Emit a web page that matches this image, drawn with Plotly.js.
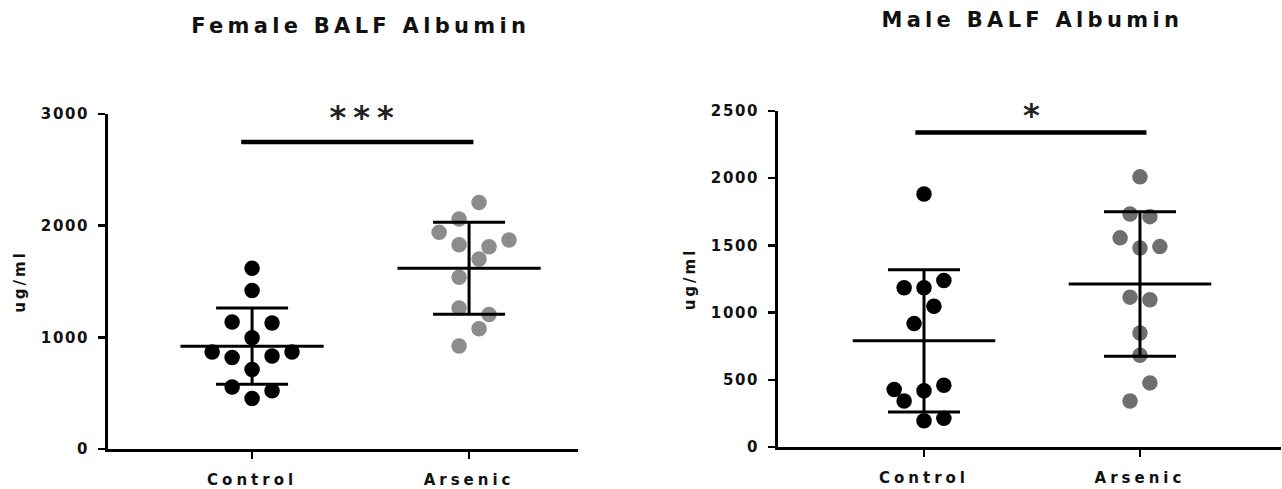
<!DOCTYPE html>
<html>
<head>
<meta charset="utf-8">
<script src="https://cdn.plot.ly/plotly-3.0.1.min.js"></script>
<style>
  html, body { margin: 0; padding: 0; background: #fff; }
  #chart { width: 1282px; height: 489px; }
  .xtick text, .x2tick text { letter-spacing: 4px; }
  .ytick text, .y2tick text { letter-spacing: 1.6px; }
  .ytitle, .y2title { letter-spacing: 3px; }
  g.annotation[data-index="0"] text, g.annotation[data-index="1"] text { letter-spacing: 4.3px; }
  g.annotation[data-index="2"] text { letter-spacing: 7px; }
</style>
</head>
<body>
<div id="chart"></div>
<script>
// ---- data ----
const groups = ['Control', 'Arsenic'];

const femaleControl = [1619, 1420, 1137, 1128, 997, 869, 819, 833, 869, 712, 556, 521, 453];
const femaleArsenic = [2208, 2060, 1940, 1830, 1812, 1872, 1702, 1539, 1262, 1205, 1077, 922];
const maleControl   = [1882, 1185, 1185, 1239, 1048, 918, 428, 343, 418, 460, 195, 213];
const maleArsenic   = [2010, 1734, 1714, 1556, 1481, 1491, 1115, 1096, 848, 682, 477, 343];

const femaleMean = [921, 1618];
const femaleSD   = [341, 412];
const maleMean   = [790, 1213];
const maleSD     = [529, 538];

const sigY      = [2750, 2340];
const sigLabels = ['***', '*'];

const femaleTicks = [0, 1000, 2000, 3000];
const maleTicks   = [0, 500, 1000, 1500, 2000, 2500];

// ---- point layout (scatter-dot columns, not data) ----
const colStep = 0.046;
const femaleControlCol = [0, 0, -2, 2, 0, -4, -2, 2, 4, 0, -2, 2, 0];
const femaleArsenicCol = [1, -1, -3, -1, 2, 4, 1, -1, -1, 2, 1, -1];
const maleControlCol   = [0, -2, 0, 2, 1, -1, -3, -2, 0, 2, 0, 2];
const maleArsenicCol   = [0, -1, 1, -2, 0, 2, -1, 1, 0, 0, 1, -1];

const FONT = 'DejaVu Sans, Liberation Sans, Arial, sans-serif';

function dots(vals, cols, groupIdx, color, xa, ya) {
  return {
    type: 'scatter', mode: 'markers',
    x: cols.map(c => groupIdx + c * colStep),
    y: vals,
    xaxis: xa, yaxis: ya,
    marker: { size: 15.5, color: color, line: { width: 0 } },
    hoverinfo: 'y', showlegend: false
  };
}

function meanSD(means, sds, xa, ya) {
  return {
    type: 'scatter', mode: 'markers',
    x: [0, 1], y: means,
    xaxis: xa, yaxis: ya,
    marker: { size: 1, color: 'rgba(0,0,0,0)' },
    error_x: { type: 'constant', value: 0.33, width: 0, thickness: 3, color: '#000' },
    error_y: { type: 'data', array: sds, visible: true, width: 36, thickness: 3, color: '#000' },
    hoverinfo: 'skip', showlegend: false
  };
}

const data = [
  dots(femaleControl, femaleControlCol, 0, '#000000', 'x', 'y'),
  dots(femaleArsenic, femaleArsenicCol, 1, '#8c8c8c', 'x', 'y'),
  meanSD(femaleMean, femaleSD, 'x', 'y'),
  dots(maleControl, maleControlCol, 0, '#000000', 'x2', 'y2'),
  dots(maleArsenic, maleArsenicCol, 1, '#6e6e6e', 'x2', 'y2'),
  meanSD(maleMean, maleSD, 'x2', 'y2')
];

const xTickFont = { family: FONT, size: 15, color: '#111', weight: 'bold' };
const yTickFont = { family: FONT, size: 15, color: '#111', weight: 'bold' };

function xAxis(domain, range) {
  return {
    domain: domain, range: range,
    tickvals: [0, 1], ticktext: groups,
    showline: true, linewidth: 3, linecolor: '#000',
    ticks: 'outside', ticklen: 7, tickwidth: 2.5, tickcolor: '#000',
    showgrid: false, zeroline: false, fixedrange: true,
    tickfont: xTickFont, ticklabelstandoff: 8
  };
}
function yAxis(domain, range, ticks, anchor) {
  return {
    domain: domain, range: range, anchor: anchor,
    tickvals: ticks,
    showline: true, linewidth: 3, linecolor: '#000',
    ticks: 'outside', ticklen: 7, tickwidth: 2.5, tickcolor: '#000',
    showgrid: false, zeroline: false, fixedrange: true,
    tickfont: yTickFont, ticklabelstandoff: 6,
    title: { text: 'ug/ml', font: { family: FONT, size: 15, color: '#111', weight: 'bold' }, standoff: 12 }
  };
}

const layout = {
  width: 1282, height: 489,
  margin: { l: 0, r: 0, t: 0, b: 0 },
  paper_bgcolor: '#fff', plot_bgcolor: '#fff',
  showlegend: false,
  xaxis:  Object.assign(xAxis([108 / 1282, 578 / 1282], [-0.664, 1.502]), { anchor: 'y' }),
  yaxis:  yAxis([40 / 489, 375 / 489], [0, 3000], femaleTicks, 'x'),
  xaxis2: Object.assign(xAxis([778 / 1282, 1281 / 1282], [-0.676, 1.653]), { anchor: 'y2' }),
  yaxis2: yAxis([42 / 489, 378 / 489], [0, 2500], maleTicks, 'x2'),
  shapes: [
    { type: 'line', xref: 'x', yref: 'y', x0: -0.05, x1: 1.02, y0: sigY[0], y1: sigY[0],
      line: { color: '#000', width: 4.5 } },
    { type: 'line', xref: 'x2', yref: 'y2', x0: -0.04, x1: 1.03, y0: sigY[1], y1: sigY[1],
      line: { color: '#000', width: 4.5 } }
  ],
  annotations: [
    { text: 'Female BALF Albumin', xref: 'paper', yref: 'paper', x: 360 / 1282, y: (489 - 26) / 489,
      xanchor: 'center', yanchor: 'middle', showarrow: false,
      font: { family: FONT, size: 21, color: '#111', weight: 'bold' } },
    { text: 'Male BALF Albumin', xref: 'paper', yref: 'paper', x: 1032 / 1282, y: (489 - 20) / 489,
      xanchor: 'center', yanchor: 'middle', showarrow: false,
      font: { family: FONT, size: 21, color: '#111', weight: 'bold' } },
    { text: sigLabels[0], xref: 'x', yref: 'y', x: 0.52, y: sigY[0], yanchor: 'bottom', yshift: 4,
      showarrow: false, font: { family: 'DejaVu Sans, sans-serif', size: 32, color: '#222', weight: 'bold' } },
    { text: sigLabels[1], xref: 'x2', yref: 'y2', x: 0.5, y: sigY[1], yanchor: 'bottom', yshift: -3,
      showarrow: false, font: { family: 'DejaVu Sans, sans-serif', size: 32, color: '#222', weight: 'bold' } }
  ]
};

Plotly.newPlot('chart', data, layout, { staticPlot: true, displayModeBar: false });
</script>
</body>
</html>
